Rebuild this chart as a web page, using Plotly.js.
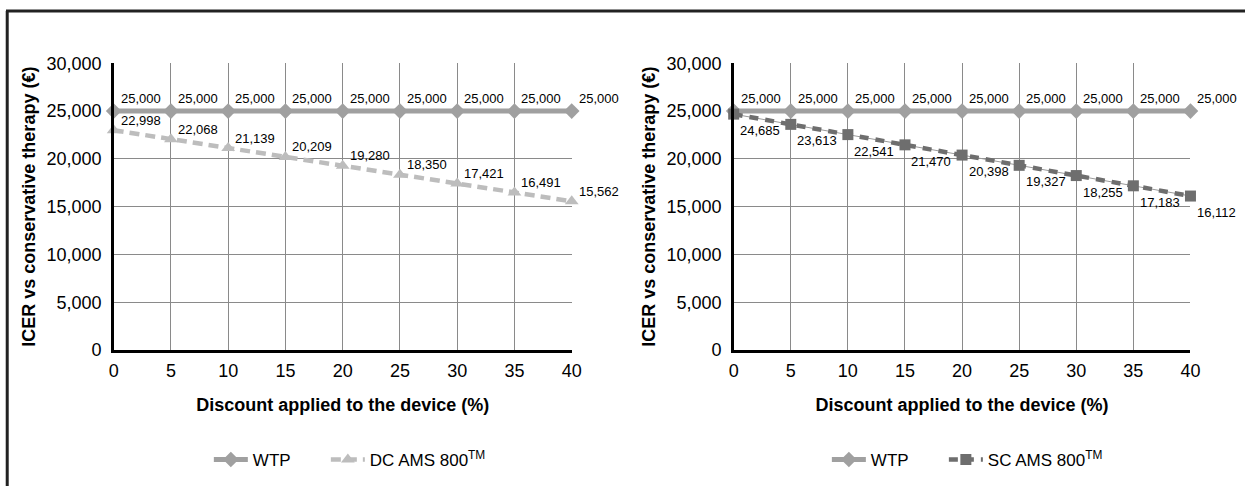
<!DOCTYPE html>
<html>
<head>
<meta charset="utf-8">
<script src="https://cdn.plot.ly/plotly-3.0.1.min.js"></script>
<style>
html,body{margin:0;padding:0;background:#fff;}
#chart{width:1245px;height:486px;}
</style>
</head>
<body>
<div id="chart"></div>
<script>
// Data
const discount = [0, 5, 10, 15, 20, 25, 30, 35, 40];
const wtp = [25000, 25000, 25000, 25000, 25000, 25000, 25000, 25000, 25000];
const dcAms800 = [22998, 22068, 21139, 20209, 19280, 18350, 17421, 16491, 15562];
const scAms800 = [24685, 23613, 22541, 21470, 20398, 19327, 18255, 17183, 16112];
const seriesNames = ['WTP', 'DC AMS 800<sup>TM</sup>', 'SC AMS 800<sup>TM</sup>'];
const xTitle = 'Discount applied to the device (%)';
const yTitle = 'ICER vs conservative therapy (€)';

const FONT = 'Liberation Sans, Arial, Helvetica, sans-serif';
const labelFont = {family: FONT, size: 13, color: '#000'};

const traces = [
  {
    x: discount, y: wtp, name: seriesNames[0], xaxis: 'x', yaxis: 'y', legend: 'legend',
    legendwidth: 68, mode: 'lines+markers', cliponaxis: false,
    line: {color: '#a0a0a0', width: 5},
    marker: {symbol: 'diamond', size: 12, color: '#a0a0a0'}
  },
  {
    x: discount, y: dcAms800, name: seriesNames[1], xaxis: 'x', yaxis: 'y', legend: 'legend',
    mode: 'lines+markers', cliponaxis: false,
    line: {color: '#bdbdbd', width: 4.5, dash: '10px,6px'},
    marker: {symbol: 'triangle-up', size: 12, color: '#bdbdbd'}
  },
  {
    x: discount, y: wtp, name: seriesNames[0], xaxis: 'x2', yaxis: 'y2', legend: 'legend2',
    legendwidth: 68, mode: 'lines+markers', cliponaxis: false,
    line: {color: '#a0a0a0', width: 5},
    marker: {symbol: 'diamond', size: 12, color: '#a0a0a0'}
  },
  {
    x: discount, y: scAms800, name: seriesNames[2], xaxis: 'x2', yaxis: 'y2', legend: 'legend2',
    showlegend: false, hoverinfo: 'skip', mode: 'lines', cliponaxis: false,
    line: {color: '#9a9a9a', width: 1}
  },
  {
    x: discount, y: scAms800, name: seriesNames[2], xaxis: 'x2', yaxis: 'y2', legend: 'legend2',
    mode: 'lines+markers', cliponaxis: false,
    line: {color: '#6e6e6e', width: 4.5, dash: '9px,7px'},
    marker: {symbol: 'square', size: 11, color: '#6e6e6e'}
  }
];

// value labels built from the data arrays, positioned through the axes
function valueLabels(xs, ys, xref, yref, xshift, yshift) {
  return xs.map((x, i) => ({
    x: x, y: ys[i], xref: xref, yref: yref,
    text: ys[i].toLocaleString('en-US'),
    showarrow: false, xanchor: 'left', yanchor: 'middle',
    xshift: xshift, yshift: yshift, font: labelFont
  }));
}
const annotations = [].concat(
  valueLabels(discount, wtp, 'x', 'y', 5, 12.5),
  valueLabels(discount, dcAms800, 'x', 'y', 5, 10),
  valueLabels(discount, wtp, 'x2', 'y2', 5, 12.5),
  valueLabels(discount, scAms800, 'x2', 'y2', 4.5, -16.5)
);

function xAxis(domain, anchor) {
  return {
    domain: domain, anchor: anchor, range: [0, 40], dtick: 5, tick0: 0,
    showgrid: true, gridcolor: '#8a8a8a', gridwidth: 1,
    zeroline: false, showline: true, linecolor: '#000', linewidth: 2.5,
    ticks: '', ticklabelstandoff: 3,
    tickfont: {family: FONT, size: 18, color: '#000'},
    title: {text: xTitle, font: {family: FONT, size: 18, color: '#000', weight: 'bold'}, standoff: 19},
    fixedrange: true
  };
}
function yAxis(domain, anchor) {
  return {
    domain: domain, anchor: anchor, range: [0, 30000], dtick: 5000, tick0: 0,
    tickformat: ',', showgrid: true, gridcolor: '#8a8a8a', gridwidth: 1,
    zeroline: false, showline: true, linecolor: '#000', linewidth: 2.5,
    ticks: '', ticklabelstandoff: 6,
    tickfont: {family: FONT, size: 18, color: '#000'},
    title: {text: yTitle, font: {family: FONT, size: 18, color: '#000', weight: 'bold'}, standoff: 6},
    fixedrange: true
  };
}

const yDom = [0.2798, 0.8697];
const legendFont = {family: FONT, size: 17, color: '#000'};

const layout = {
  width: 1245, height: 486,
  margin: {l: 0, r: 0, t: 0, b: 0},
  paper_bgcolor: '#fff', plot_bgcolor: '#fff',
  font: {family: FONT, color: '#000'},
  xaxis: xAxis([0.0913, 0.4592], 'y'),
  yaxis: yAxis(yDom, 'x'),
  xaxis2: xAxis([0.5893, 0.9562], 'y2'),
  yaxis2: yAxis(yDom, 'x2'),
  legend: {
    orientation: 'h', x: 0.281, xanchor: 'center', y: 0.0535, yanchor: 'middle',
    font: legendFont, bgcolor: 'rgba(0,0,0,0)', itemwidth: 34
  },
  legend2: {
    orientation: 'h', x: 0.777, xanchor: 'center', y: 0.0535, yanchor: 'middle',
    font: legendFont, bgcolor: 'rgba(0,0,0,0)', itemwidth: 34
  },
  annotations: annotations,
  shapes: [
    {type: 'line', xref: 'paper', yref: 'paper', x0: 0.0048, x1: 1, y0: 0.9774, y1: 0.9774,
     line: {color: '#222', width: 3}},
    {type: 'line', xref: 'paper', yref: 'paper', x0: 0.0058, x1: 0.0058, y0: 0, y1: 0.9774,
     line: {color: '#222', width: 3}}
  ],
  showlegend: true
};

Plotly.newPlot('chart', traces, layout, {displayModeBar: false, staticPlot: true});
</script>
</body>
</html>
